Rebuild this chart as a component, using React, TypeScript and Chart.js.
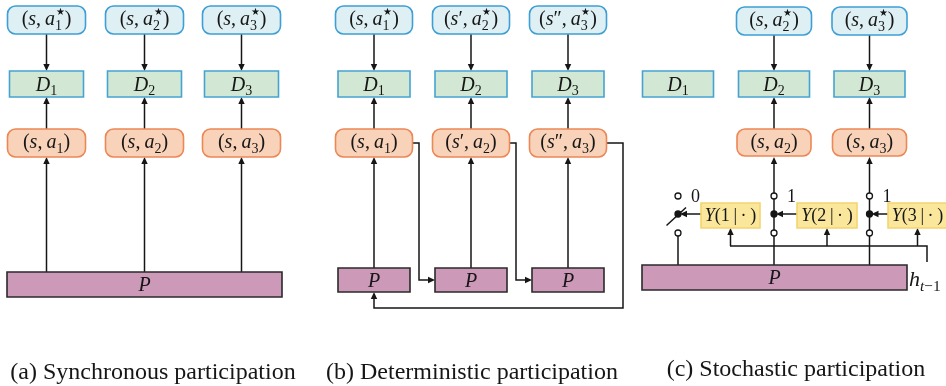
import React, { useEffect, useRef } from 'react';
import { Chart, registerables } from 'chart.js';

Chart.register(...registerables);

// ---------------- content ----------------
const captions = ['(a) Synchronous participation', '(b) Deterministic participation', '(c) Stochastic participation'];
const targetsA = ['(s, a_1^*)', '(s, a_2^*)', '(s, a_3^*)'];
const targetsB = ['(s, a_1^*)', "(s', a_2^*)", "(s'', a_3^*)"];
const targetsC = ['(s, a_2^*)', '(s, a_3^*)'];
const discriminators = ['D_1', 'D_2', 'D_3'];
const actionsA = ['(s, a_1)', '(s, a_2)', '(s, a_3)'];
const actionsB = ['(s, a_1)', "(s', a_2)", "(s'', a_3)"];
const actionsC = ['(s, a_2)', '(s, a_3)'];
const policyLabel = 'P';
const gateLabels = ['Y(1 | \u00b7 )', 'Y(2 | \u00b7 )', 'Y(3 | \u00b7 )'];
const gateStates = [0, 1, 1];
const historyLabel = 'h_{t-1}';

// ---------------- layout (data units of the hidden scales) ----------------
const W = 946;
const H = 386;
const rowTarget = [6, 34];
const rowDisc = [71, 97];
const rowAction = [129, 157];
const colsA = [46.5, 144.5, 241.5];
const colsB = [374, 471, 568];
const colsC = [678, 774, 869.5];
const policyA = [7, 272, 282, 297];
const policyBY = [268, 292];
const policyC = [642, 265, 907, 290];
const switchY = [196, 214, 233];
const gateBoxesX = [[701, 760], [797, 857], [888, 947]];
const gateY = [203, 228];
const busY = 246;
const captionPos = [[153, 379], [472, 379], [796, 376]];

const STY = {
  target: { fill: '#dff0f5', stroke: '#3e9fd4', r: 8 },
  disc: { fill: '#d3e8d4', stroke: '#45a3d3', r: 0 },
  action: { fill: '#f9d3b9', stroke: '#ec8756', r: 8 },
  policy: { fill: '#cc99b8', stroke: '#2a2a2a', r: 0 },
  gate: { fill: '#fbe79c', stroke: '#f4d470', r: 0 },
};
const INK = '#161616';
const FONT = '"Liberation Serif", "Times New Roman", Tinos, "Nimbus Roman", "DejaVu Serif", serif';

type Tok = { t: string; it: boolean; pos: 'base' | 'sub' | 'sup'; space?: boolean };

function parseMath(s: string): Tok[] {
  const out: Tok[] = [];
  const pushChars = (str: string, pos: 'base' | 'sub' | 'sup') => {
    for (let k = 0; k < str.length; k++) {
      const c = str[k];
      if (c === '*') { out.push({ t: '\u2605', it: false, pos }); continue; }
      if (c === '-') { out.push({ t: '\u2212', it: false, pos }); continue; }
      if (c === ' ') { out.push({ t: ' ', it: false, pos, space: true }); continue; }
      out.push({ t: c, it: /[a-zA-Z]/.test(c), pos });
    }
  };
  let i = 0;
  while (i < s.length) {
    const c = s[i];
    if (c === '_' || c === '^') {
      const pos = c === '_' ? 'sub' : 'sup';
      let grp = '';
      if (s[i + 1] === '{') {
        const j = s.indexOf('}', i + 2);
        grp = s.slice(i + 2, j);
        i = j + 1;
      } else {
        grp = s[i + 1];
        i += 2;
      }
      pushChars(grp, pos);
      continue;
    }
    if (c === "'") {
      if (s[i + 1] === "'") { out.push({ t: '\u2033', it: false, pos: 'base' }); i += 2; }
      else { out.push({ t: '\u2032', it: false, pos: 'base' }); i += 1; }
      continue;
    }
    pushChars(c, 'base');
    i++;
  }
  return out;
}

function fontFor(tok: Tok, size: number) {
  let sz = size;
  if (tok.pos !== 'base') sz = size * 0.7;
  if (tok.t === '\u2605') sz = size * 0.5;
  return `${tok.it ? 'italic ' : ''}${sz}px ${FONT}`;
}

function drawMath(ctx: CanvasRenderingContext2D, s: string, cx: number, baseline: number, size: number, align: 'center' | 'left' = 'center') {
  const toks = parseMath(s);
  const placed: { tok: Tok; x: number; font: string; dy: number }[] = [];
  let x = 0;
  let subStart = 0;
  let subEnd = 0;
  let prevPos = 'base';
  let stacking = false;
  toks.forEach((tok, idx) => {
    const font = fontFor(tok, size);
    ctx.font = font;
    const w = tok.space ? size * (tok.pos === 'base' ? 0.2 : 0.1) : ctx.measureText(tok.t).width;
    if (tok.pos === 'sub') {
      if (prevPos !== 'sub') subStart = x;
      placed.push({ tok, x, font, dy: size * 0.24 });
      x += w;
      subEnd = x;
    } else if (tok.pos === 'sup') {
      if (prevPos === 'sub') { stacking = true; x = subStart + size * 0.03; }
      else if (prevPos === 'base') { x += size * 0.04; }
      const dy = tok.t === '\u2605' ? -size * 0.5 : -size * 0.38;
      placed.push({ tok, x, font, dy });
      x += w;
      const next = toks[idx + 1];
      if (stacking && (!next || next.pos !== 'sup')) { x = Math.max(x, subEnd); stacking = false; }
    } else {
      if (tok.t === ')' && prevPos === 'base' && idx > 0 && toks[idx - 1].it) x += size * 0.05;
      placed.push({ tok, x, font, dy: 0 });
      x += w;
    }
    prevPos = tok.pos;
  });
  const x0 = align === 'center' ? cx - x / 2 : cx;
  ctx.fillStyle = INK;
  ctx.textBaseline = 'alphabetic';
  ctx.textAlign = 'left';
  placed.forEach((p) => {
    if (p.tok.space) return;
    ctx.font = p.font;
    ctx.fillText(p.tok.t, x0 + p.x, baseline + p.dy);
  });
}

function DiagramChart() {
  const ref = useRef<HTMLCanvasElement | null>(null);
  useEffect(() => {
    if (!ref.current) return;
    const diagram = {
      id: 'diagram',
      afterDraw(chart: any) {
        const ctx: CanvasRenderingContext2D = chart.ctx;
        const xs = chart.scales.x;
        const ys = chart.scales.y;
        const X = (v: number) => xs.getPixelForValue(v);
        const Y = (v: number) => ys.getPixelForValue(v);
        ctx.save();
        ctx.lineCap = 'butt';
        ctx.lineJoin = 'miter';

        const box = (x1: number, y1: number, x2: number, y2: number, st: any) => {
          const a = X(x1), b = Y(y1), c = X(x2), d = Y(y2);
          const r = st.r;
          ctx.beginPath();
          if (r > 0) {
            ctx.moveTo(a + r, b);
            ctx.lineTo(c - r, b);
            ctx.arcTo(c, b, c, b + r, r);
            ctx.lineTo(c, d - r);
            ctx.arcTo(c, d, c - r, d, r);
            ctx.lineTo(a + r, d);
            ctx.arcTo(a, d, a, d - r, r);
            ctx.lineTo(a, b + r);
            ctx.arcTo(a, b, a + r, b, r);
            ctx.closePath();
          } else {
            ctx.rect(a, b, c - a, d - b);
          }
          ctx.fillStyle = st.fill;
          ctx.fill();
          ctx.lineWidth = 1.6;
          ctx.strokeStyle = st.stroke;
          ctx.stroke();
        };
        const head = (x1: number, y1: number, x2: number, y2: number) => {
          const ang = Math.atan2(y2 - y1, x2 - x1);
          const L = 7, Wd = 3.2;
          ctx.beginPath();
          ctx.moveTo(x2, y2);
          ctx.lineTo(x2 - L * Math.cos(ang) + Wd * Math.sin(ang), y2 - L * Math.sin(ang) - Wd * Math.cos(ang));
          ctx.lineTo(x2 - L * Math.cos(ang) - Wd * Math.sin(ang), y2 - L * Math.sin(ang) + Wd * Math.cos(ang));
          ctx.closePath();
          ctx.fillStyle = INK;
          ctx.fill();
        };
        const poly = (pts: number[][], arrow: boolean) => {
          const P = pts.map((p) => [X(p[0]), Y(p[1])]);
          ctx.beginPath();
          ctx.moveTo(P[0][0], P[0][1]);
          for (let i = 1; i < P.length; i++) {
            let [px, py] = P[i];
            if (arrow && i === P.length - 1) {
              const [qx, qy] = P[i - 1];
              const len = Math.hypot(px - qx, py - qy);
              px = px - ((px - qx) / len) * 5;
              py = py - ((py - qy) / len) * 5;
            }
            ctx.lineTo(px, py);
          }
          ctx.lineWidth = 1.5;
          ctx.strokeStyle = INK;
          ctx.stroke();
          if (arrow) {
            const n = P.length;
            head(P[n - 2][0], P[n - 2][1], P[n - 1][0], P[n - 1][1]);
          }
        };
        const label = (s: string, cx: number, cy: number, size: number, k: number) => {
          drawMath(ctx, s, X(cx), Y(cy) + k * size, size);
        };
        const circle = (x: number, y: number, filled: boolean) => {
          ctx.beginPath();
          ctx.arc(X(x), Y(y), 3, 0, Math.PI * 2);
          ctx.fillStyle = filled ? INK : '#ffffff';
          ctx.fill();
          ctx.lineWidth = 1.3;
          ctx.strokeStyle = INK;
          ctx.stroke();
        };

        // -------- panel (a) --------
        colsA.forEach((cx, i) => {
          poly([[cx, rowTarget[1]], [cx, rowDisc[0]]], true);
          poly([[cx, rowAction[0]], [cx, rowDisc[1]]], true);
          poly([[cx, policyA[1]], [cx, rowAction[1]]], true);
          box(cx - 39, rowTarget[0], cx + 39, rowTarget[1], STY.target);
          label(targetsA[i], cx, (rowTarget[0] + rowTarget[1]) / 2, 20, 0.27);
          box(cx - 37, rowDisc[0], cx + 37, rowDisc[1], STY.disc);
          label(discriminators[i], cx, (rowDisc[0] + rowDisc[1]) / 2, 20, 0.33);
          box(cx - 39, rowAction[0], cx + 39, rowAction[1], STY.action);
          label(actionsA[i], cx, (rowAction[0] + rowAction[1]) / 2, 20, 0.27);
        });
        box(policyA[0], policyA[1], policyA[2], policyA[3], STY.policy);
        label(policyLabel, (policyA[0] + policyA[2]) / 2, (policyA[1] + policyA[3]) / 2, 20, 0.33);

        // -------- panel (b) --------
        colsB.forEach((cx, i) => {
          poly([[cx, rowTarget[1]], [cx, rowDisc[0]]], true);
          poly([[cx, rowAction[0]], [cx, rowDisc[1]]], true);
          poly([[cx, policyBY[0]], [cx, rowAction[1]]], true);
          const mid = (rowAction[0] + rowAction[1]) / 2;
          if (i < colsB.length - 1) {
            const nx = colsB[i + 1];
            poly([[cx + 38.5, mid], [cx + 45, mid], [cx + 45, 280], [nx - 36, 280]], true);
          } else {
            poly([[cx + 38.5, mid], [cx + 55, mid], [cx + 55, 308], [colsB[0], 308], [colsB[0], policyBY[1]]], true);
          }
        });
        colsB.forEach((cx, i) => {
          box(cx - 38.5, rowTarget[0], cx + 38.5, rowTarget[1], STY.target);
          label(targetsB[i], cx, (rowTarget[0] + rowTarget[1]) / 2, 20, 0.27);
          box(cx - 36, rowDisc[0], cx + 36, rowDisc[1], STY.disc);
          label(discriminators[i], cx, (rowDisc[0] + rowDisc[1]) / 2, 20, 0.33);
          box(cx - 38.5, rowAction[0], cx + 38.5, rowAction[1], STY.action);
          label(actionsB[i], cx, (rowAction[0] + rowAction[1]) / 2, 20, 0.27);
          box(cx - 36, policyBY[0], cx + 36, policyBY[1], STY.policy);
          label(policyLabel, cx, (policyBY[0] + policyBY[1]) / 2, 20, 0.33);
        });

        // -------- panel (c) --------
        poly([[gateBoxesX[0][0] + 29, busY], [927, busY], [927, 262]], false);
        gateBoxesX.forEach((gx) => {
          const gc = (gx[0] + gx[1]) / 2;
          poly([[gc, busY], [gc, gateY[1]]], true);
        });
        colsC.forEach((cx, i) => {
          poly([[cx, switchY[2] + 3], [cx, policyC[1]]], false);
          if (i > 0) {
            poly([[cx, rowAction[0]], [cx, rowDisc[1]]], true);
            poly([[cx, rowTarget[1]], [cx, rowDisc[0]]], true);
            poly([[cx, switchY[0] - 3], [cx, rowAction[1]]], true);
          }
          if (gateStates[i] === 1) {
            poly([[cx, switchY[0] + 3], [cx, switchY[2] - 3]], false);
          } else {
            poly([[cx - 11.5, switchY[1] + 11.5], [cx + 8, switchY[1] - 6.5]], false);
          }
          poly([[gateBoxesX[i][0], switchY[1]], [cx + 2, switchY[1]]], true);
          circle(cx, switchY[0], false);
          circle(cx, switchY[2], false);
          circle(cx, switchY[1], true);
          ctx.fillStyle = INK;
          ctx.font = `18px ${FONT}`;
          ctx.textAlign = 'left';
          ctx.textBaseline = 'alphabetic';
          ctx.fillText(String(gateStates[i]), X(cx + 13), Y(switchY[0] + 6));
          box(gateBoxesX[i][0], gateY[0], gateBoxesX[i][1], gateY[1], STY.gate);
          label(gateLabels[i], (gateBoxesX[i][0] + gateBoxesX[i][1]) / 2, (gateY[0] + gateY[1]) / 2, 18, 0.3);
        });
        colsC.forEach((cx, i) => {
          box(cx - 35.5, rowDisc[0], cx + 35.5, rowDisc[1], STY.disc);
          label(discriminators[i], cx, (rowDisc[0] + rowDisc[1]) / 2, 20, 0.33);
          if (i > 0) {
            box(cx - 37.5, rowTarget[0] + 1, cx + 37.5, rowTarget[1] + 1, STY.target);
            label(targetsC[i - 1], cx, (rowTarget[0] + rowTarget[1]) / 2 + 1, 20, 0.27);
            box(cx - 37, rowAction[0], cx + 37, rowAction[1] - 1, STY.action);
            label(actionsC[i - 1], cx, (rowAction[0] + rowAction[1]) / 2 - 0.5, 20, 0.27);
          }
        });
        box(policyC[0], policyC[1], policyC[2], policyC[3], STY.policy);
        label(policyLabel, (policyC[0] + policyC[2]) / 2, (policyC[1] + policyC[3]) / 2, 20, 0.33);
        drawMath(ctx, historyLabel, X(909), Y(286), 22, 'left');

        // -------- captions --------
        ctx.fillStyle = INK;
        ctx.font = `24px ${FONT}`;
        ctx.textAlign = 'center';
        ctx.textBaseline = 'alphabetic';
        captions.forEach((c, i) => ctx.fillText(c, X(captionPos[i][0]), Y(captionPos[i][1])));
        ctx.restore();
      },
    };
    const chart = new Chart(ref.current, {
      type: 'scatter',
      data: { datasets: [{ data: [], pointRadius: 0 }] },
      options: {
        animation: false,
        responsive: true,
        maintainAspectRatio: false,
        layout: { padding: 0 },
        scales: {
          x: { type: 'linear', min: 0, max: W, display: false },
          y: { type: 'linear', min: 0, max: H, reverse: true, display: false },
        },
        plugins: { legend: { display: false }, tooltip: { enabled: false } },
      },
      plugins: [diagram],
    });
    let alive = true;
    const fontsApi: any = (document as any).fonts;
    if (fontsApi && fontsApi.load) {
      Promise.all([
        fontsApi.load(`20px ${FONT}`),
        fontsApi.load(`italic 20px ${FONT}`),
      ]).then(() => { if (alive) chart.draw(); }).catch(() => {});
    }
    return () => { alive = false; chart.destroy(); };
  }, []);
  return (
    <div style={{ position: 'fixed', left: 0, top: 0, width: W, height: H, background: '#ffffff' }}>
      <span style={{ position: 'absolute', left: -9999, top: 0, fontFamily: FONT }}>
        a <i>a</i>
      </span>
      <canvas ref={ref} />
    </div>
  );
}

export default function App() {
  return <DiagramChart />;
}
